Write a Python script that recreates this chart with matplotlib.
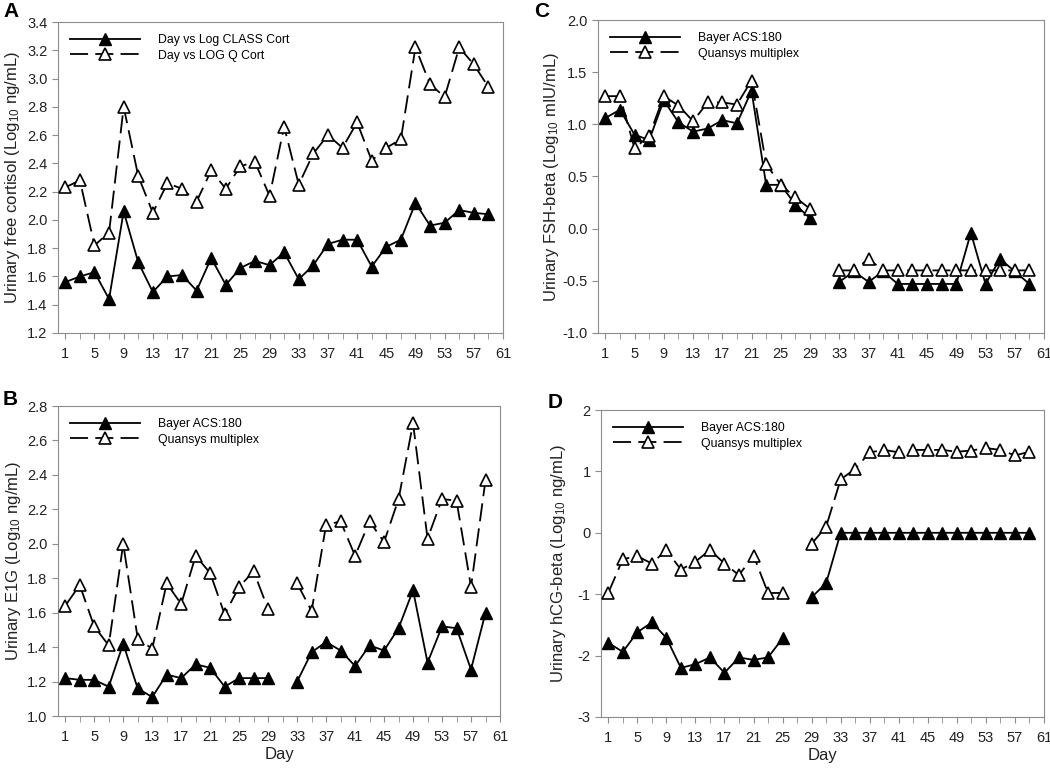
import matplotlib
matplotlib.use("Agg")
import matplotlib.pyplot as plt
import numpy as np

plt.rcParams['font.family'] = ['Liberation Sans', 'DejaVu Sans']
plt.rcParams['mathtext.fontset'] = 'custom'
plt.rcParams['mathtext.rm'] = 'Liberation Sans'
plt.rcParams['mathtext.it'] = 'Liberation Sans:italic'

nan = np.nan
days = list(range(1, 60, 2))

# panel A - cortisol
a_class = [1.56, 1.60, 1.63, 1.44, 2.06, 1.70, 1.49, 1.60, 1.61, 1.50,
           1.73, 1.54, 1.66, 1.71, 1.68, 1.77, 1.58, 1.68, 1.83, 1.86,
           1.86, 1.67, 1.81, 1.86, 2.12, 1.96, 1.98, 2.07, 2.05, 2.04]
a_q = [2.23, 2.28, 1.82, 1.91, 2.80, 2.31, 2.05, 2.26, 2.22, 2.13,
       2.35, 2.22, 2.38, 2.41, 2.17, 2.66, 2.25, 2.47, 2.60, 2.51,
       2.69, 2.42, 2.51, 2.57, 3.22, 2.96, 2.87, 3.22, 3.10, 2.94]

# panel B - E1G
b_bayer = [1.22, 1.21, 1.21, 1.17, 1.42, 1.16, 1.11, 1.24, 1.22, 1.30,
           1.28, 1.17, 1.22, 1.22, 1.22, nan, 1.20, 1.37, 1.43, 1.38,
           1.29, 1.41, 1.38, 1.51, 1.73, 1.31, 1.52, 1.51, 1.27, 1.60]
b_q = [1.64, 1.76, 1.52, 1.41, 2.00, 1.45, 1.39, 1.77, 1.65, 1.93,
       1.83, 1.59, 1.75, 1.84, 1.62, nan, 1.77, 1.61, 2.11, 2.13,
       1.93, 2.13, 2.01, 2.26, 2.70, 2.03, 2.26, 2.25, 1.75, 2.37]

# panel C - FSH-beta
c_bayer = [1.06, 1.14, 0.90, 0.85, 1.23, 1.02, 0.93, 0.96, 1.04, 1.01,
           1.32, 0.42, 0.42, 0.23, 0.10, nan, -0.51, -0.41, -0.51, -0.41,
           -0.53, -0.53, -0.53, -0.53, -0.53, -0.04, -0.53, -0.29, -0.41, -0.53]
c_q = [1.27, 1.27, 0.77, 0.89, 1.27, 1.18, 1.03, 1.21, 1.21, 1.19,
       1.42, 0.62, 0.42, 0.30, 0.19, nan, -0.40, -0.40, -0.29, -0.40,
       -0.40, -0.40, -0.40, -0.40, -0.40, -0.40, -0.40, -0.40, -0.40, -0.40]

# panel D - hCG-beta
d_bayer = [-1.79, -1.94, -1.62, -1.46, -1.71, -2.20, -2.14, -2.03, -2.28, -2.03,
           -2.07, -2.03, -1.72, nan, -1.05, -0.82, 0.0, 0.0, 0.0, 0.0,
           0.0, 0.0, 0.0, 0.0, 0.0, 0.0, 0.0, 0.0, 0.0, 0.0]
d_q = [-0.98, -0.43, -0.38, -0.50, -0.28, -0.60, -0.47, -0.28, -0.50, -0.69,
       -0.37, -0.98, -0.98, nan, -0.18, 0.10, 0.87, 1.04, 1.31, 1.35,
       1.31, 1.35, 1.35, 1.35, 1.32, 1.34, 1.38, 1.35, 1.26, 1.32]

W, H = 1050, 768
fig = plt.figure(figsize=(W / 100, H / 100), dpi=100)


def box(l, r, t, b):
    return [l / W, (H - b) / H, (r - l) / W, (b - t) / H]


def panel(pos, s1, s2, names, ylim, yticks, yfmt, ylabel, letter, lpos, xlabel):
    ax = fig.add_axes(pos)
    ax.plot(days, s1, color='black', lw=1.3, marker='^', ms=9,
            mfc='black', mec='black', label=names[0], zorder=3)
    ax.plot(days, s2, color='black', lw=1.3, marker='^', ms=9,
            mfc='white', mec='black', mew=1.2, dashes=(10, 4), label=names[1], zorder=4)
    ax.set_xlim(0, 61)
    ax.set_ylim(*ylim)
    ax.set_xticks(range(1, 62, 4))
    ax.set_xticks(range(3, 62, 4), minor=True)
    ax.set_yticks(yticks)
    ax.set_yticklabels([yfmt.format(v) for v in yticks])
    for s in ax.spines.values():
        s.set_color('#8c8c8c')
    ax.tick_params(which='both', direction='out', color='#8c8c8c', length=4,
                   labelsize=10.5, labelcolor='#222222')
    ax.tick_params(axis='x', pad=6)
    ax.set_ylabel(ylabel, fontsize=12, color='#222222')
    if xlabel:
        ax.set_xlabel('Day', fontsize=12, color='#222222', labelpad=2)
    h = ax.get_position().height * H
    w = ax.get_position().width * W
    ax.legend(loc='upper left', bbox_to_anchor=(12 / w, 1 - 12 / h), frameon=False,
              handlelength=5.7, markerscale=0.9, fontsize=8.8, handletextpad=1.5,
              labelspacing=0.3, borderaxespad=0, borderpad=0)
    fig.text(lpos[0] / W, 1 - lpos[1] / H, letter, fontsize=15,
             fontweight='bold', ha='left', va='top')
    return ax


axA = panel(box(58, 503, 22, 333), a_class, a_q,
            ['Day vs Log CLASS Cort', 'Day vs LOG Q Cort'],
            (1.2, 3.4), np.arange(1.2, 3.41, 0.2), '{:.1f}',
            r'Urinary free cortisol (Log$_{10}$ ng/mL)', 'A', (3, 2), False)
axA.yaxis.set_label_coords(-0.08, 0.5)

axB = panel(box(58, 500, 406, 716), b_bayer, b_q,
            ['Bayer ACS:180', 'Quansys multiplex'],
            (1.0, 2.8), np.arange(1.0, 2.81, 0.2), '{:.1f}',
            r'Urinary E1G (Log$_{10}$ ng/mL)', 'B', (3, 390), True)
axB.yaxis.set_label_coords(-0.08, 0.5)

axC = panel(box(598, 1044, 20, 333), c_bayer, c_q,
            ['Bayer ACS:180', 'Quansys multiplex'],
            (-1.0, 2.0), np.arange(-1.0, 2.01, 0.5), '{:.1f}',
            r'Urinary FSH-beta (Log$_{10}$ mIU/mL)', 'C', (534, 2), False)
axC.yaxis.set_label_coords(-0.083, 0.5)

axD = panel(box(601, 1044, 410, 717), d_bayer, d_q,
            ['Bayer ACS:180', 'Quansys multiplex'],
            (-3, 2), np.arange(-3, 2.1, 1), '{:.0f}',
            r'Urinary hCG-beta (Log$_{10}$ ng/mL)', 'D', (548, 393), True)
axD.yaxis.set_label_coords(-0.075, 0.5)

fig.savefig('out.png', dpi=100)
